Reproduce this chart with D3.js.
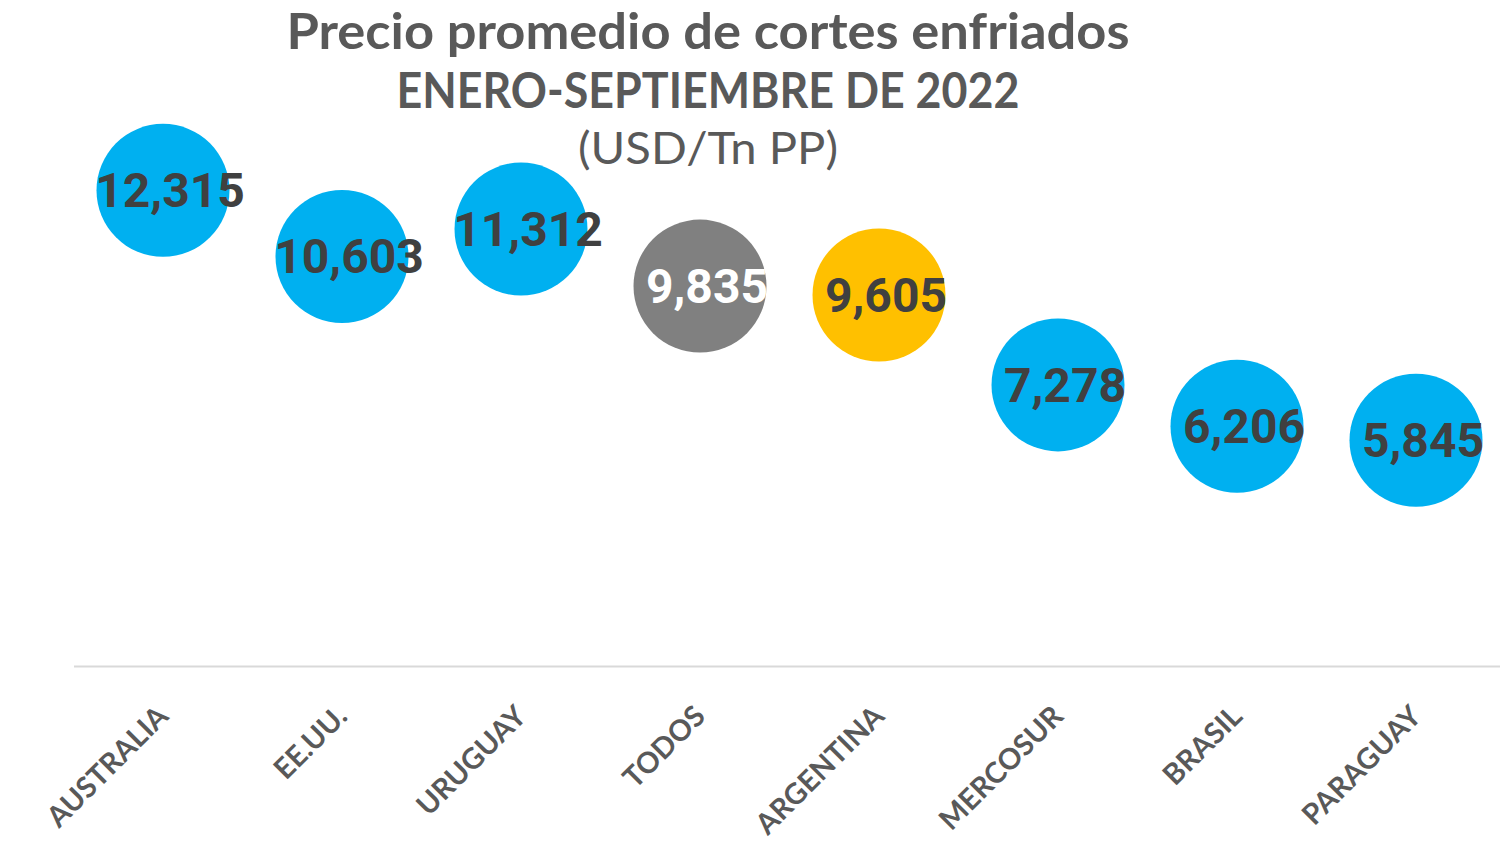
<!DOCTYPE html>
<html>
<head>
<meta charset="utf-8">
<script src="https://cdn.jsdelivr.net/npm/d3@7"></script>
<style>
  body { margin: 0; background: #fff; }
  svg { display: block; }
</style>
</head>
<body>
<svg id="chart" width="1500" height="845"></svg>
<script>
// chart data
var paises = ['AUSTRALIA', 'EE.UU.', 'URUGUAY', 'TODOS', 'ARGENTINA', 'MERCOSUR', 'BRASIL', 'PARAGUAY'];
var precios = [12315, 10603, 11312, 9835, 9605, 7278, 6206, 5845];
var titulo = ['Precio promedio de cortes enfriados', 'ENERO-SEPTIEMBRE DE 2022', '(USD/Tn PP)'];

// color for each bubble
function colorPais(p) {
  return p === 'TODOS' ? '#808080' :
         p === 'ARGENTINA' ? '#FFC000' :
                             '#00B0F0';
}

var svg = d3.select('#chart');

var x = d3.scaleBand()
  .domain(paises)
  .range([73.5, 1505.5]);

var y = d3.scaleLinear()
  .domain([0, 16000])
  .range([666, 48]);

var fmt = d3.format(',');

// title
svg.append('text')
  .attr('x', 708).attr('y', 49)
  .attr('text-anchor', 'middle')
  .attr('textLength', 843)
  .attr('lengthAdjust', 'spacingAndGlyphs')
  .style('font-family', 'Lato, sans-serif')
  .style('font-weight', 'bold')
  .style('font-size', '50px')
  .style('fill', '#595959')
  .text(titulo[0]);

svg.append('text')
  .attr('x', 708).attr('y', 108)
  .attr('text-anchor', 'middle')
  .attr('textLength', 623)
  .attr('lengthAdjust', 'spacingAndGlyphs')
  .style('font-family', 'Lato, sans-serif')
  .style('font-weight', 'bold')
  .style('font-size', '50px')
  .style('fill', '#595959')
  .text(titulo[1]);

svg.append('text')
  .attr('x', 708).attr('y', 164)
  .attr('text-anchor', 'middle')
  .attr('textLength', 260)
  .attr('lengthAdjust', 'spacingAndGlyphs')
  .style('font-family', 'Lato, sans-serif')
  .style('font-size', '44px')
  .style('fill', '#595959')
  .text(titulo[2]);

// x axis
var xAxis = svg.append('g')
  .attr('transform', 'translate(0,666)')
  .call(d3.axisBottom(x).tickSize(0).tickPadding(0));

xAxis.select('.domain')
  .attr('stroke', '#d9d9d9')
  .attr('stroke-width', 2);

xAxis.selectAll('.tick text')
  .attr('text-anchor', 'end')
  .attr('dy', null)
  .attr('y', 0)
  .attr('transform', 'translate(7,52) rotate(-45)')
  .style('font-family', 'Lato, sans-serif')
  .style('font-weight', 'bold')
  .style('font-size', '29px')
  .style('fill', '#595959');

// bubbles
var puntos = svg.append('g')
  .selectAll('g')
  .data(paises)
  .enter()
  .append('g')
    .attr('transform', (d, i) => 'translate(' + (x(d) + x.bandwidth() / 2) + ',' + y(precios[i]) + ')');

puntos.append('circle')
  .attr('r', 66.5)
  .style('fill', (d) => colorPais(d));

puntos.append('text')
  .attr('x', 7)
  .attr('y', 17)
  .attr('text-anchor', 'middle')
  .style('font-family', 'Roboto, sans-serif')
  .style('font-weight', 'bold')
  .style('font-size', '48px')
  .style('fill', (d) => d === 'TODOS' ? '#ffffff' : '#404040')
  .text((d, i) => fmt(precios[i]));
</script>
</body>
</html>
